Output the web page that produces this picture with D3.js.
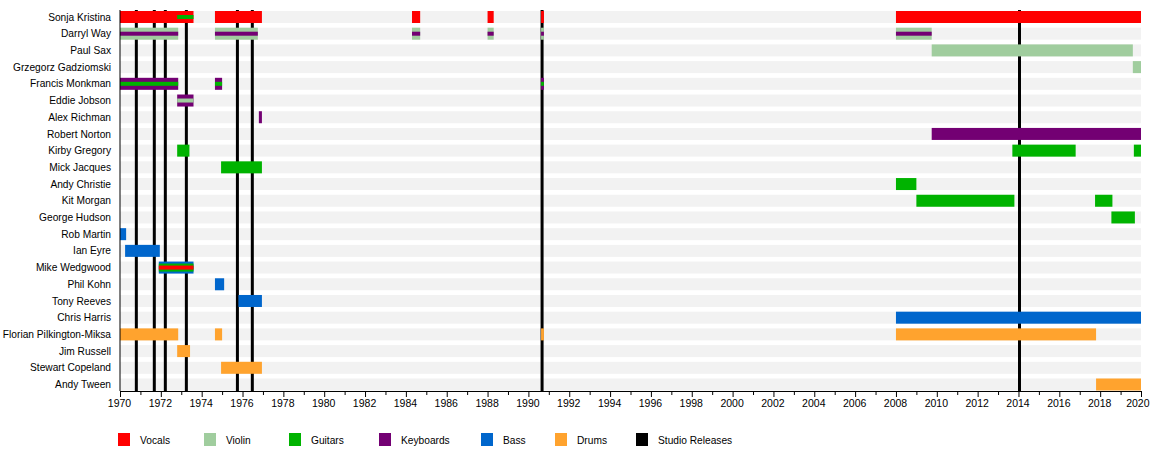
<!DOCTYPE html>
<html lang="en">
<head>
<meta charset="UTF-8">
<title>Band timeline</title>
<script src="https://d3js.org/d3.v7.min.js"></script>
<style>
  body { margin: 0; background: #fff; }
  svg text { font-family: "Liberation Sans", Arial, sans-serif; fill: #000; }
</style>
</head>
<body>
<svg id="chart" width="1150" height="450"></svg>
<script>
// members, top to bottom
const members = [
  "Sonja Kristina", "Darryl Way", "Paul Sax", "Grzegorz Gadziomski",
  "Francis Monkman", "Eddie Jobson", "Alex Richman", "Robert Norton",
  "Kirby Gregory", "Mick Jacques", "Andy Christie", "Kit Morgan",
  "George Hudson", "Rob Martin", "Ian Eyre", "Mike Wedgwood", "Phil Kohn",
  "Tony Reeves", "Chris Harris", "Florian Pilkington-Miksa", "Jim Russell",
  "Stewart Copeland", "Andy Tween"
];

const roles = ["Vocals", "Violin", "Guitars", "Keyboards", "Bass", "Drums"];

// main role: [member, role, from, to]
const mainBars = [
  ["Sonja Kristina", "Vocals", 1970, 1973.6],
  ["Sonja Kristina", "Vocals", 1974.65, 1976.95],
  ["Sonja Kristina", "Vocals", 1984.3, 1984.7],
  ["Sonja Kristina", "Vocals", 1988.0, 1988.3],
  ["Sonja Kristina", "Vocals", 1990.62, 1990.76],
  ["Sonja Kristina", "Vocals", 2008, 2020],
  ["Darryl Way", "Violin", 1970, 1972.85],
  ["Darryl Way", "Violin", 1974.65, 1976.75],
  ["Darryl Way", "Violin", 1984.3, 1984.7],
  ["Darryl Way", "Violin", 1988.0, 1988.3],
  ["Darryl Way", "Violin", 1990.62, 1990.76],
  ["Darryl Way", "Violin", 2008, 2009.75],
  ["Paul Sax", "Violin", 2009.75, 2019.6],
  ["Grzegorz Gadziomski", "Violin", 2019.6, 2020],
  ["Francis Monkman", "Keyboards", 1970, 1972.85],
  ["Francis Monkman", "Keyboards", 1974.65, 1975.0],
  ["Francis Monkman", "Keyboards", 1990.62, 1990.76],
  ["Eddie Jobson", "Keyboards", 1972.8, 1973.6],
  ["Alex Richman", "Keyboards", 1976.8, 1976.95],
  ["Robert Norton", "Keyboards", 2009.75, 2020],
  ["Kirby Gregory", "Guitars", 1972.8, 1973.4],
  ["Kirby Gregory", "Guitars", 2013.7, 2016.8],
  ["Kirby Gregory", "Guitars", 2019.65, 2020],
  ["Mick Jacques", "Guitars", 1974.95, 1976.95],
  ["Andy Christie", "Guitars", 2008, 2009.0],
  ["Kit Morgan", "Guitars", 2009.0, 2013.8],
  ["Kit Morgan", "Guitars", 2017.75, 2018.6],
  ["George Hudson", "Guitars", 2018.55, 2019.7],
  ["Rob Martin", "Bass", 1970, 1970.3],
  ["Ian Eyre", "Bass", 1970.25, 1971.95],
  ["Mike Wedgwood", "Bass", 1971.9, 1973.6],
  ["Phil Kohn", "Bass", 1974.65, 1975.1],
  ["Tony Reeves", "Bass", 1975.8, 1976.95],
  ["Chris Harris", "Bass", 2008, 2020],
  ["Florian Pilkington-Miksa", "Drums", 1970, 1972.85],
  ["Florian Pilkington-Miksa", "Drums", 1974.65, 1975.0],
  ["Florian Pilkington-Miksa", "Drums", 1990.62, 1990.76],
  ["Florian Pilkington-Miksa", "Drums", 2008, 2017.8],
  ["Jim Russell", "Drums", 1972.8, 1973.43],
  ["Stewart Copeland", "Drums", 1974.95, 1976.95],
  ["Andy Tween", "Drums", 2017.8, 2020]
];

// second role, drawn as a 2/3 stripe
const midBars = [
  ["Mike Wedgwood", "Guitars", 1971.9, 1973.6]
];

// second/third role, drawn as a 1/3 stripe
const innerBars = [
  ["Sonja Kristina", "Guitars", 1972.8, 1973.6],
  ["Darryl Way", "Keyboards", 1970, 1972.85],
  ["Darryl Way", "Keyboards", 1974.65, 1976.75],
  ["Darryl Way", "Keyboards", 1984.3, 1984.7],
  ["Darryl Way", "Keyboards", 1988.0, 1988.3],
  ["Darryl Way", "Keyboards", 1990.62, 1990.76],
  ["Darryl Way", "Keyboards", 2008, 2009.75],
  ["Francis Monkman", "Guitars", 1970, 1972.85],
  ["Francis Monkman", "Guitars", 1974.65, 1975.0],
  ["Francis Monkman", "Guitars", 1990.62, 1990.76],
  ["Eddie Jobson", "Violin", 1972.8, 1973.6],
  ["Mike Wedgwood", "Vocals", 1971.9, 1973.6]
];

// studio albums
const releases = [1970.8, 1971.68, 1972.22, 1973.25, 1975.75, 1976.48, 1990.67, 2014.05];

const yearTicks = d3.range(1970, 2021, 2);
const minorTicks = d3.range(1971, 2020, 2);

const colors = {
  Vocals: "#ff0000",
  Violin: "#a0cd9e",
  Guitars: "#00b300",
  Keyboards: "#730073",
  Bass: "#0066cc",
  Drums: "#ffa32e",
  "Studio Releases": "#000000"
};

const svg = d3.select("#chart");
const plotLeft = 120, plotRight = 1141, plotTop = 10, axisY = 391;
const barH = 12;

const x = d3.scaleLinear().domain([1970, 2020]).range([plotLeft, plotRight]);
const y = d3.scalePoint().domain(members).range([17, 384.5]);

// grey background per row
svg.append("g").selectAll("rect")
  .data(members)
  .join("rect")
  .attr("x", x(1970))
  .attr("y", d => y(d) - barH / 2)
  .attr("width", x(2020) - x(1970))
  .attr("height", barH)
  .attr("fill", "#f2f2f2");

// studio release lines go behind the bars
svg.append("g").selectAll("line")
  .data(releases)
  .join("line")
  .attr("x1", d => x(d)).attr("x2", d => x(d))
  .attr("y1", plotTop).attr("y2", axisY)
  .attr("stroke", "#000")
  .attr("stroke-width", 3);

function drawBars(rows, h) {
  svg.append("g").selectAll("rect")
    .data(rows)
    .join("rect")
    .attr("x", d => x(d[2]))
    .attr("y", d => y(d[0]) - h / 2)
    .attr("width", d => x(d[3]) - x(d[2]))
    .attr("height", h)
    .attr("fill", d => colors[d[1]]);
}
drawBars(mainBars, barH);
drawBars(midBars, barH * 2 / 3);
drawBars(innerBars, barH / 3);

// names
svg.append("g").selectAll("text")
  .data(members)
  .join("text")
  .attr("x", 111)
  .attr("y", d => y(d))
  .attr("dy", "0.35em")
  .attr("text-anchor", "end")
  .style("font-size", "10.2px")
  .text(d => d);

// axes
svg.append("line")
  .attr("x1", plotLeft).attr("x2", plotLeft)
  .attr("y1", plotTop).attr("y2", axisY)
  .attr("stroke", "#000");

const ax = svg.append("g")
  .attr("transform", `translate(0,${axisY})`)
  .call(d3.axisBottom(x).tickValues(yearTicks).tickFormat(d3.format("d")).tickSize(6).tickSizeOuter(0));
ax.selectAll("text")
  .attr("dx", "-1")
  .style("font-size", "10.5px")
  .style("font-family", "'Liberation Sans', Arial, sans-serif");
// keep the last year inside the picture
ax.selectAll(".tick").filter(d => d === 2020).select("text")
  .attr("text-anchor", "end")
  .attr("dx", "8");

svg.append("g")
  .attr("transform", `translate(0,${axisY})`)
  .call(d3.axisBottom(x).tickValues(minorTicks).tickFormat("").tickSize(4).tickSizeOuter(0))
  .select(".domain").remove();

// legend
const legendItems = roles.concat(["Studio Releases"]);
const legendX = [118, 204, 289, 379, 481, 555, 636];
const lg = svg.append("g").selectAll("g")
  .data(legendItems)
  .join("g")
  .attr("transform", (d, i) => `translate(${legendX[i]},433)`);
lg.append("rect")
  .attr("width", 12).attr("height", 13)
  .attr("fill", d => colors[d]);
lg.append("text")
  .attr("x", 22).attr("y", 7)
  .attr("dy", "0.35em")
  .style("font-size", "10.2px")
  .text(d => d);
</script>
</body>
</html>
